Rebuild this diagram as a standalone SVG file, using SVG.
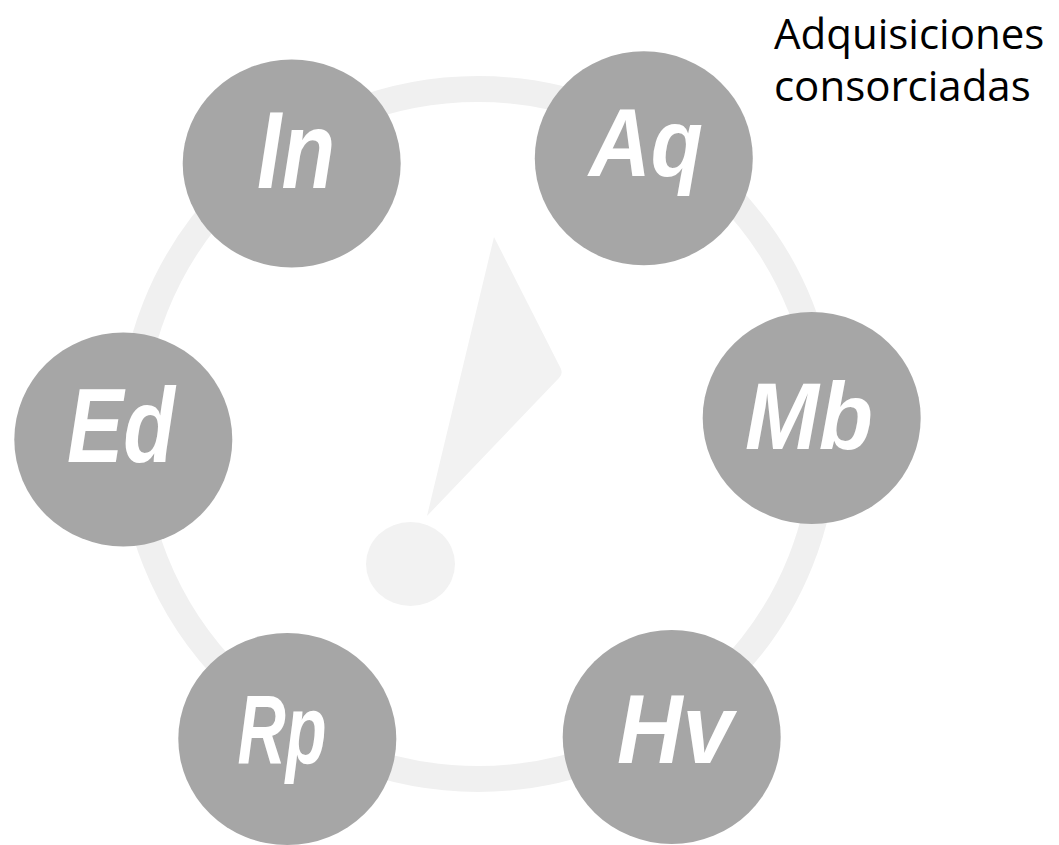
<svg xmlns="http://www.w3.org/2000/svg" width="1059" height="845" viewBox="0 0 1059 845">
<style>
.node{fill:#a6a6a6}
.lbl{fill:#ffffff;font-family:"Liberation Sans",Arial,sans-serif;font-weight:bold;font-style:italic;text-anchor:middle}
.title{fill:#000000;font-family:"Open Sans","Noto Sans",sans-serif;font-size:42px}
.deco{fill:#f2f2f2}
</style>
<rect width="1059" height="845" fill="#ffffff"/>
<g id="connectors">
<ellipse cx="478" cy="434" rx="347" ry="345" fill="none" stroke="#f0f0f0" stroke-width="26"/>
</g>
<g id="exclamation">
<path class="deco" d="M494,237 L561,369 Q563,374 559,378 L427,516 Z"/>
<ellipse class="deco" cx="410.5" cy="564" rx="44.5" ry="42"/>
</g>
<g id="node-in">
<ellipse class="node" cx="291.7" cy="163.5" rx="109" ry="104"/>
<text class="lbl" x="296" y="188" font-size="110" textLength="78" lengthAdjust="spacingAndGlyphs">In</text>
</g>
<g id="node-aq">
<ellipse class="node" cx="643.8" cy="158.3" rx="109" ry="107"/>
<text class="lbl" x="646" y="176" font-size="96" textLength="114" lengthAdjust="spacingAndGlyphs">Aq</text>
</g>
<g id="node-mb">
<ellipse class="node" cx="811.7" cy="418" rx="109" ry="106"/>
<text class="lbl" x="809" y="449" font-size="94" textLength="128" lengthAdjust="spacingAndGlyphs">Mb</text>
</g>
<g id="node-ed">
<ellipse class="node" cx="123.3" cy="439.5" rx="109" ry="107"/>
<text class="lbl" x="121" y="462" font-size="105" textLength="108" lengthAdjust="spacingAndGlyphs">Ed</text>
</g>
<g id="node-rp">
<ellipse class="node" cx="287.3" cy="739" rx="109" ry="106"/>
<text class="lbl" x="282" y="764" font-size="99" textLength="89" lengthAdjust="spacingAndGlyphs">Rp</text>
</g>
<g id="node-hv">
<ellipse class="node" cx="671.7" cy="737" rx="109" ry="107"/>
<text class="lbl" x="675" y="763" font-size="99" textLength="116" lengthAdjust="spacingAndGlyphs">Hv</text>
</g>
<g id="title">
<text class="title" x="774" y="49">Adquisiciones</text>
<text class="title" x="774" y="101">consorciadas</text>
</g>
</svg>
